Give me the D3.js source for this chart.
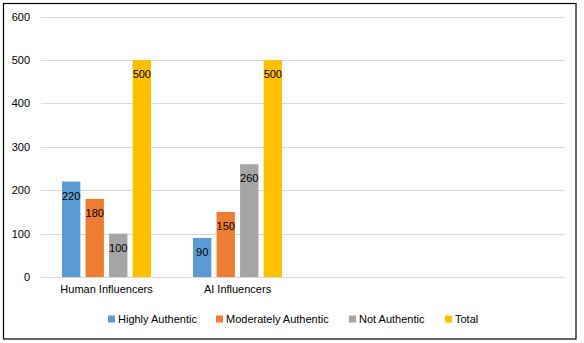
<!DOCTYPE html>
<html><head><meta charset="utf-8">
<script src="https://cdn.jsdelivr.net/npm/d3@7"></script>
<style>body{margin:0;background:#fff}svg{display:block}text{font-family:"Liberation Sans",Arial,sans-serif}</style>
</head><body>
<svg id="c" width="584" height="343"></svg>
<script>
const categories = ["Human Influencers", "AI Influencers", "", " "];
const seriesNames = ["Highly Authentic", "Moderately Authentic", "Not Authentic", "Total"];
const highlyAuthentic = [220, 90];
const moderatelyAuthentic = [180, 150];
const notAuthentic = [100, 260];
const total = [500, 500];
const yTicks = [0, 100, 200, 300, 400, 500, 600];
const colors = ["#5B9BD5", "#ED7D31", "#A5A5A5", "#FFC000"];

const seriesValues = [highlyAuthentic, moderatelyAuthentic, notAuthentic, total];
const svg = d3.select("#c");
const plotL = 41, plotR = 565, plotT = 16.7, plotB = 277;

svg.append("rect").attr("x", 3.5).attr("y", 3.5).attr("width", 572.5).attr("height", 335.5)
  .attr("fill", "#fff").attr("stroke", "#000").attr("stroke-width", 1.2);

const y = d3.scaleLinear().domain([0, 600]).range([plotB, plotT]);
const x0 = d3.scaleBand().domain(categories).range([plotL, plotR]).padding(0);
const groupW = 89;
const x1 = d3.scaleBand().domain(seriesNames).range([-groupW/2, groupW/2]).paddingInner(0.22);

// gridlines
svg.append("g").selectAll("line").data(yTicks).join("line")
  .attr("x1", plotL).attr("x2", plotR)
  .attr("y1", d => Math.round(y(d)) + 0.5).attr("y2", d => Math.round(y(d)) + 0.5)
  .attr("stroke", "#d9d9d9").attr("stroke-width", 1);

// y axis labels
const yAxis = d3.axisLeft(y).tickValues(yTicks).tickSize(0).tickPadding(0);
const ga = svg.append("g").attr("transform", `translate(30,0)`).call(yAxis);
ga.select(".domain").remove();
ga.selectAll("text").attr("font-size", 11).attr("fill", "#000").style("font-family", '"Liberation Sans",Arial,sans-serif');

// bars
const data = [];
seriesNames.forEach((s, si) => {
  seriesValues[si].forEach((v, ci) => data.push({s, si, c: categories[ci], v}));
});
const bars = svg.append("g");
bars.selectAll("rect").data(data).join("rect")
  .attr("x", d => x0(d.c) + x0.bandwidth()/2 + x1(d.s))
  .attr("width", x1.bandwidth())
  .attr("y", d => y(d.v))
  .attr("height", d => y(0) - y(d.v))
  .attr("fill", d => colors[d.si]);
bars.selectAll("text").data(data).join("text")
  .attr("x", d => x0(d.c) + x0.bandwidth()/2 + x1(d.s) + x1.bandwidth()/2)
  .attr("y", d => y(d.v) + 18)
  .attr("text-anchor", "middle")
  .attr("font-size", 11).attr("fill", "#000")
  .text(d => d.v);

// x axis labels
const xAxis = d3.axisBottom(x0).tickSize(0).tickPadding(0);
const gx = svg.append("g").attr("transform", `translate(0,${plotB + 8})`).call(xAxis);
gx.select(".domain").remove();
gx.selectAll("text").attr("font-size", 11).attr("fill", "#000").style("font-family", '"Liberation Sans",Arial,sans-serif');

// legend
const legendX = [108, 216, 349, 445];
const lg = svg.append("g");
seriesNames.forEach((s, i) => {
  lg.append("rect").attr("x", legendX[i]).attr("y", 315.5).attr("width", 7).attr("height", 7).attr("fill", colors[i]);
  lg.append("text").attr("x", legendX[i] + 10).attr("y", 323).attr("font-size", 11).attr("fill", "#000").text(s);
});
</script>
</body></html>
